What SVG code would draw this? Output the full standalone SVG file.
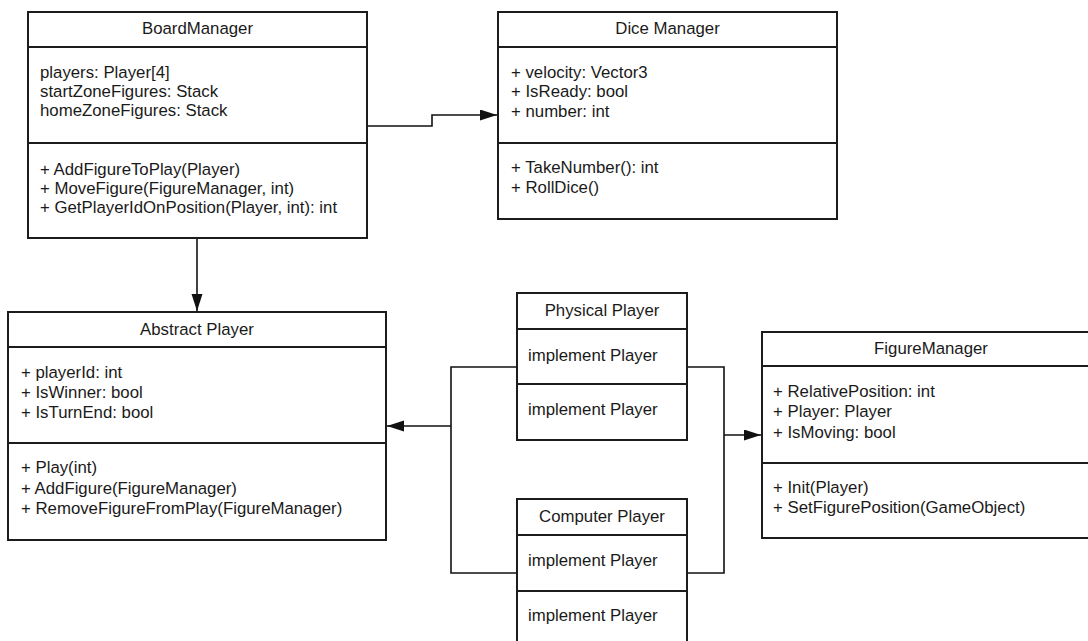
<svg xmlns="http://www.w3.org/2000/svg" width="1088" height="641" viewBox="0 0 1088 641">
<style>
.box{fill:#fff;stroke:#1c1c1c;stroke-width:2}
.div{stroke:#1c1c1c;stroke-width:2;fill:none}
.conn{fill:none;stroke:#111;stroke-width:1.6}
text{font-family:"Liberation Sans",Arial,sans-serif;font-size:16.8px;fill:#1a1a1a}
.t{text-anchor:middle}
</style>
<defs>
<marker id="arr" markerUnits="userSpaceOnUse" markerWidth="18" markerHeight="12" refX="17" refY="5.5" orient="auto">
<path d="M0,0 L17,5.5 L0,11 z" fill="#111"/>
</marker>
</defs>
<rect width="1088" height="641" fill="#fff"/>
<g id="connectors">
<path class="conn" d="M367,126 H432 V115 H497" marker-end="url(#arr)"/>
<path class="conn" d="M197,238 V311" marker-end="url(#arr)"/>
<path class="conn" d="M517,367 H451 V573 H517"/>
<path class="conn" d="M451,426 H387" marker-end="url(#arr)"/>
<path class="conn" d="M687,367 H724 V573 H687"/>
<path class="conn" d="M724,435 H761" marker-end="url(#arr)"/>
</g>
<g id="BoardManager">
<rect class="box" x="28" y="12" width="339" height="226"/>
<path class="div" d="M28,47 H367 M28,143 H367"/>
<text class="t" x="197.5" y="34">BoardManager</text>
<text x="40" y="78">players: Player[4]</text>
<text x="40" y="97">startZoneFigures: Stack</text>
<text x="40" y="116">homeZoneFigures: Stack</text>
<text x="40" y="175">+ AddFigureToPlay(Player)</text>
<text x="40" y="194">+ MoveFigure(FigureManager, int)</text>
<text x="40" y="213">+ GetPlayerIdOnPosition(Player, int): int</text>
</g>
<g id="DiceManager">
<rect class="box" x="498" y="12" width="339" height="207"/>
<path class="div" d="M498,47 H837 M498,143 H837"/>
<text class="t" x="667.5" y="34">Dice Manager</text>
<text x="511" y="78">+ velocity: Vector3</text>
<text x="511" y="97">+ IsReady: bool</text>
<text x="511" y="117">+ number: int</text>
<text x="511" y="173">+ TakeNumber(): int</text>
<text x="511" y="193">+ RollDice()</text>
</g>
<g id="AbstractPlayer">
<rect class="box" x="8" y="312" width="378" height="228"/>
<path class="div" d="M8,347 H386 M8,443 H386"/>
<text class="t" x="197" y="335">Abstract Player</text>
<text x="21" y="378">+ playerId: int</text>
<text x="21" y="398">+ IsWinner: bool</text>
<text x="21" y="418">+ IsTurnEnd: bool</text>
<text x="21" y="473">+ Play(int)</text>
<text x="21" y="494">+ AddFigure(FigureManager)</text>
<text x="21" y="514">+ RemoveFigureFromPlay(FigureManager)</text>
</g>
<g id="PhysicalPlayer">
<rect class="box" x="517" y="293" width="170" height="147"/>
<path class="div" d="M517,329 H687 M517,384 H687"/>
<text class="t" x="602" y="316">Physical Player</text>
<text x="528" y="361">implement Player</text>
<text x="528" y="415">implement Player</text>
</g>
<g id="ComputerPlayer">
<rect class="box" x="517" y="499" width="170" height="160"/>
<path class="div" d="M517,535 H687 M517,591 H687"/>
<text class="t" x="602" y="522">Computer Player</text>
<text x="528" y="566">implement Player</text>
<text x="528" y="621">implement Player</text>
</g>
<g id="FigureManager">
<rect class="box" x="762" y="332" width="338" height="206"/>
<path class="div" d="M762,366 H1100 M762,463 H1100"/>
<text class="t" x="931" y="354">FigureManager</text>
<text x="773" y="397">+ RelativePosition: int</text>
<text x="773" y="417">+ Player: Player</text>
<text x="773" y="438">+ IsMoving: bool</text>
<text x="773" y="493">+ Init(Player)</text>
<text x="773" y="513">+ SetFigurePosition(GameObject)</text>
</g>
</svg>
